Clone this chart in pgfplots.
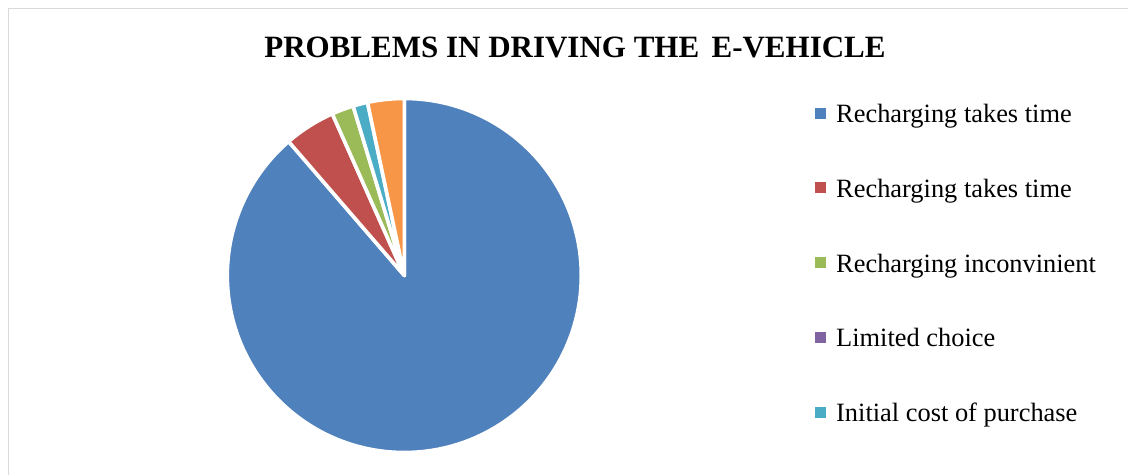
\documentclass[border=0pt]{standalone}
\usepackage{pgfplots}
\usepackage{pgfplotstable}
\pgfplotsset{compat=1.18}
\usepackage{fontspec}
\setmainfont{Liberation Serif}

\definecolor{pie0}{HTML}{4F81BD}
\definecolor{pie1}{HTML}{C0504D}
\definecolor{pie2}{HTML}{9BBB59}
\definecolor{pie3}{HTML}{8064A2}
\definecolor{pie4}{HTML}{4BACC6}
\definecolor{pie5}{HTML}{F79646}
\definecolor{framegray}{HTML}{D9D9D9}

% Problems in driving the e-vehicle (counts)
\pgfplotstableread[col sep=comma]{
name,value
Recharging takes time,133
Recharging takes time,7
Recharging inconvinient,3
Limited choice,0
Initial cost of purchase,2
Other,5
}\piedata

% cumulative angles (Excel style: start at 12 o'clock, clockwise)
\pgfmathsetmacro\pietotal{0}
\pgfplotsforeachungrouped \i in {0,...,5}{%
  \pgfplotstablegetelem{\i}{value}\of\piedata
  \pgfmathsetmacro\pietotal{\pietotal+\pgfplotsretval}%
}
\def\piecum{0}
\pgfplotsforeachungrouped \i in {0,...,5}{%
  \pgfplotstablegetelem{\i}{value}\of\piedata
  \pgfmathsetmacro\pa{90-360*(\piecum/\pietotal)}%
  \pgfmathsetmacro\piecumnew{\piecum+\pgfplotsretval}%
  \pgfmathsetmacro\pb{90-360*(\piecumnew/\pietotal)}%
  \expandafter\xdef\csname pieS\i\endcsname{\pa}%
  \expandafter\xdef\csname pieE\i\endcsname{\pb}%
  \xdef\piecum{\piecumnew}%
}

\begin{document}
\begin{tikzpicture}
\useasboundingbox (0,0) rectangle (1128pt,475pt);
\begin{axis}[
  at={(0,0)}, anchor=south west,
  width=1128pt, height=475pt, scale only axis,
  xmin=0, xmax=1128, ymin=0, ymax=475,
  enlargelimits=false, hide axis, clip=false,
]
% chart frame
\draw[framegray, line width=1.3pt] (axis cs:8.7,0) |- (axis cs:1128,466.4);

% pie slices
\pgfplotsinvokeforeach{0,1,2,4,5}{
  \fill[pie#1, draw=white, line width=3.6pt, line join=round]
    (axis cs:404.3,199.5) -- ++(\csname pieS#1\endcsname:177pt)
    arc[start angle=\csname pieS#1\endcsname, end angle=\csname pieE#1\endcsname, radius=177pt] -- cycle;
}

% title
\node[anchor=base, font=\bfseries\fontsize{31}{37}\selectfont, inner sep=0pt]
  at (axis cs:575,417.7) {PROBLEMS IN DRIVING THE\hspace{0.4em}E-VEHICLE};

% legend
\addplot[only marks, mark=square*, mark size=5pt, color=pie0] coordinates {(820,362.3)};
\addplot[only marks, mark=square*, mark size=5pt, color=pie1] coordinates {(820,287.5)};
\addplot[only marks, mark=square*, mark size=5pt, color=pie2] coordinates {(820,212.6)};
\addplot[only marks, mark=square*, mark size=5pt, color=pie3] coordinates {(820,137.8)};
\addplot[only marks, mark=square*, mark size=5pt, color=pie4] coordinates {(820,62.9)};
\begin{scope}[every node/.style={anchor=base west, inner sep=0pt, font=\fontsize{26.4}{31}\selectfont}]
\node at (axis cs:836,352.7) {Recharging takes time};
\node at (axis cs:836,277.85) {Recharging takes time};
\node at (axis cs:836,203.0) {Recharging inconvinient};
\node at (axis cs:836,128.15) {Limited choice};
\node at (axis cs:836,53.3) {Initial cost of purchase};
\end{scope}
\end{axis}
\end{tikzpicture}
\end{document}
